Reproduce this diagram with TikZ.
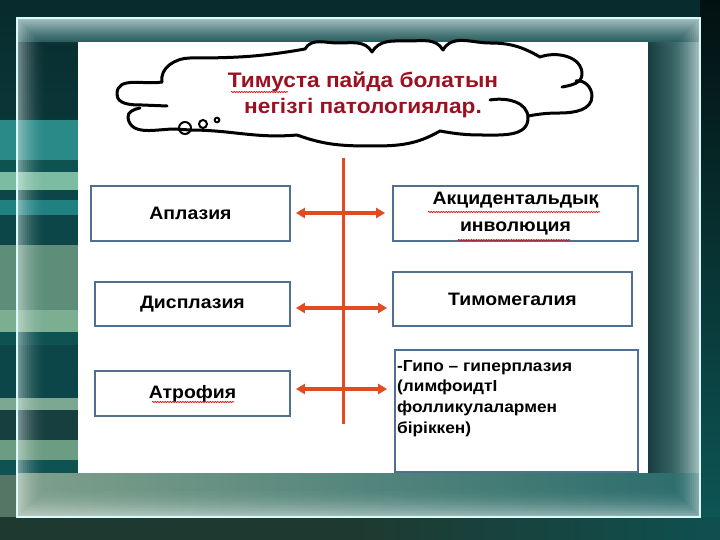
\documentclass[tikz,border=0pt]{standalone}
\usepackage{fontspec}
\setmainfont{Liberation Sans}[FakeStretch=1.08]
\usetikzlibrary{arrows.meta,decorations.pathmorphing}
\definecolor{bgdark}{HTML}{0A3638}
\definecolor{boxc}{HTML}{4F7090}
\definecolor{redc}{HTML}{E24A22}
\definecolor{titlec}{HTML}{9C1020}
\definecolor{st1}{HTML}{2A8A88}
\definecolor{st2}{HTML}{0E5252}
\definecolor{st3}{HTML}{7CBCA2}
\definecolor{st4}{HTML}{0C4648}
\definecolor{st5}{HTML}{208082}
\definecolor{st6}{HTML}{5E8E7A}
\definecolor{st7}{HTML}{7CAE92}
\definecolor{st8}{HTML}{173F3F}
\definecolor{st9}{HTML}{7AA890}
\definecolor{st10}{HTML}{6C9C82}
\definecolor{outr}{HTML}{0E5858}
\definecolor{rbandl}{HTML}{163E40}
\definecolor{rbandr}{HTML}{5E8C8C}
\definecolor{tband}{HTML}{24585A}
\definecolor{bbandl}{HTML}{7FA08C}
\definecolor{bbandr}{HTML}{2A6C6C}
\definecolor{botl}{HTML}{1E3A30}
\definecolor{botr}{HTML}{0E5050}
\definecolor{framec}{HTML}{D8FAFA}
\tikzset{
  box/.style={draw=boxc, line width=1.8pt, fill=white, inner sep=0pt,
    font=\fontsize{18}{27.5}\selectfont\bfseries, align=center},
  biarrow/.style={draw=redc, line width=3.4pt,
    {Triangle[length=9pt,width=10pt]}-{Triangle[length=9pt,width=10pt]}},
  spine/.style={draw=redc, line width=3pt},
  cloudline/.style={draw=black, line width=3pt, line cap=round, line join=round},
  bubble/.style={draw=black, line width=2pt},
  squig/.style={draw=red!85!black, line width=0.6pt, decorate,
    decoration={snake, segment length=2.5pt, amplitude=0.6pt}}
}
\begin{document}
\begin{tikzpicture}[x=1pt,y=-1pt]
\useasboundingbox (0,0) rectangle (720,540);
% ---------- background ----------
\fill[bgdark] (0,0) rectangle (720,540);
\shade[top color=bgdark!80!black, bottom color=bgdark] (0,0) rectangle (720,120);
\fill[st1] (0,120) rectangle (78,160);
\fill[st2] (0,160) rectangle (78,172);
\fill[st3] (0,172) rectangle (78,190);
\fill[st4] (0,190) rectangle (78,200);
\fill[st5] (0,200) rectangle (78,215);
\fill[st4] (0,215) rectangle (78,245);
\fill[st6] (0,245) rectangle (78,310);
\fill[st7] (0,310) rectangle (78,332);
\fill[st2] (0,332) rectangle (78,345);
\fill[st4] (0,345) rectangle (78,398);
\fill[st9] (0,398) rectangle (78,410);
\fill[st8] (0,410) rectangle (78,440);
\fill[st10] (0,440) rectangle (78,460);
\fill[st2] (0,460) rectangle (78,475);
\fill[st9!70!black] (0,475) rectangle (78,540);
% right side outside frame
\shade[top color=black!70!bgdark, bottom color=outr] (700,0) rectangle (720,540);
% bands inside the frame
\shade[left color=rbandl, right color=rbandr] (648,18) rectangle (700,517);
\shade[top color=rbandr, bottom color=tband] (17,18) rectangle (700,42);
\shade[left color=bbandl, right color=bbandr] (17,473) rectangle (700,517);
\fill[botl] (0,517) rectangle (360,540);
\shade[left color=botl, right color=botr] (360,517) rectangle (720,540);
% glow
\foreach \i in {0,...,14}{
  \pgfmathsetmacro\op{0.45*(1-\i/15)^2}
  \draw[white, opacity=\op, line width=2pt]
    (18+\i*2, 19+\i*2) rectangle (699-\i*2, 516-\i*2);
}
\draw[framec, line width=1.4pt] (17,18) rectangle (700,517);
% slide
\fill[white] (78,42) rectangle (648,473);
% ---------- cloud ----------
\draw[cloudline] (162,82) to[out=100,in=180] (190,58) to[out=0,in=190] (305,49)
  to[out=60,in=180] (338,43) to[out=0,in=120] (372,52)
  to[out=60,in=180] (408,41) to[out=0,in=120] (443,50)
  to[out=60,in=180] (490,43) to[out=0,in=150] (540,57)
  to[out=20,in=90] (582,74) to[out=-90,in=10] (562,87);
\draw[cloudline] (576,81) to[out=10,in=90] (592,96) to[out=-90,in=0] (560,113)
  to[out=180,in=10] (528,116);
\draw[cloudline] (490,100) to[out=10,in=90] (528,118) to[out=-90,in=0] (482,135)
  to[out=180,in=-10] (440,131) to[out=-150,in=0] (372,146)
  to[out=180,in=-20] (297,135) to[out=-175,in=0] (190,130) -- (175,129)
  to[out=180,in=-80] (128,118) to[out=100,in=190] (140,108);
\draw[cloudline] (167,106) -- (142,105) to[out=180,in=-90] (117,94)
  to[out=90,in=190] (162,82);
\draw[bubble] (185,128) circle (6);
\draw[bubble] (203,124) circle (4);
\draw[bubble] (217,120) circle (2.3);
\node[font=\fontsize{21}{26.5}\selectfont\bfseries, text=titlec, align=center,
  inner sep=0pt] (title) at (363,95) {Тимуста пайда болатын\\негізгі патологиялар.};
\draw[squig] (231,92) -- (288,92);
% ---------- boxes ----------
\node[box, minimum width=199pt, minimum height=55pt] (apl) at (190.5,213.5) {Аплазия};
\node[box, minimum width=195pt, minimum height=44pt] (dys) at (192.5,304) {Дисплазия};
\node[box, minimum width=195pt, minimum height=45pt] (atr) at (192.5,393.5) {Атрофия};
\node[box, minimum width=245pt, minimum height=55pt] (akc) at (515.5,213.5)
  {Акцидентальдық\\инволюция};
\node[box, minimum width=239pt, minimum height=54pt] (tim) at (512.5,299) {Тимомегалия};
\node[box, minimum width=243pt, minimum height=122pt] (gip) at (516.5,411) {};
\node[anchor=north west, inner sep=0pt, align=left,
  font=\fontsize{16}{20.7}\selectfont\bfseries] (giptxt) at (397,360)
  {-Гипо – гиперплазия\\(лимфоидтІ\\фолликулалармен\\біріккен)};
\draw[squig] (428,212) -- (600,212);
\draw[squig] (458,240) -- (570,240);
\draw[squig] (152,402) -- (234,402);
% ---------- connectors ----------
\coordinate (stop) at (343,158);
\coordinate (sbot) at (343,424);
\coordinate (r1) at (343,213);
\coordinate (r2) at (343,308);
\coordinate (r3) at (343,389);
\draw[spine] (stop) -- (sbot);
\draw[biarrow, shorten <=5pt, shorten >=7pt] (apl.east |- r1) -- (akc.west |- r1);
\draw[biarrow, shorten <=5pt, shorten >=5pt] (dys.east |- r2) -- (tim.west |- r2);
\draw[biarrow, shorten <=5pt, shorten >=7pt] (atr.east |- r3) -- (gip.west |- r3);
\end{tikzpicture}
\end{document}
